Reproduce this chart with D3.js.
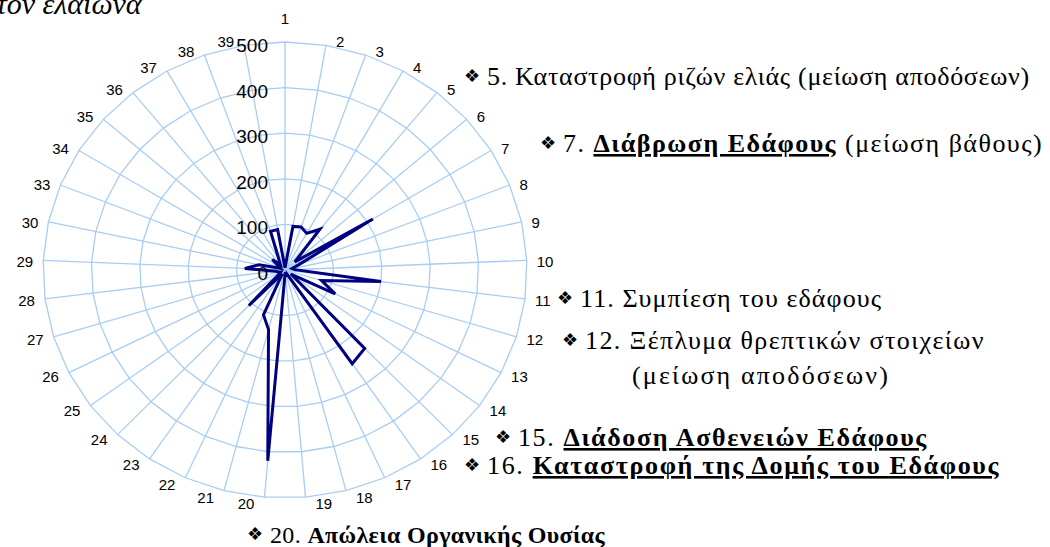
<!DOCTYPE html>
<html>
<head>
<meta charset="utf-8">
<script src="https://cdn.jsdelivr.net/npm/d3@7"></script>
<style>
  html, body { margin: 0; padding: 0; background: #fff; }
  svg { display: block; }
</style>
</head>
<body>
<svg id="chart" width="1050" height="547"></svg>
<script>
// categories (31 and 32 are absent in the source chart)
const categories = ['1','2','3','4','5','6','7','8','9','10','11','12','13','14','15','16','17','18','19','20',
  '21','22','23','24','25','26','27','28','29','30','33','34','35','36','37','38','39'];
const values = [5, 97, 100, 92, 115, 27, 213, 30, 15, 20, 200, 79, 116, 15, 238, 248, 10, 15, 5, 420,
  135, 108, 10, 108, 15, 10, 15, 20, 83, 55, 10, 15, 35, 15, 25, 90, 90];
const ringTicks = [0, 100, 200, 300, 400, 500];

// side notes: text parts [text, bold, underline]
const noteTexts = [
  [['5. Καταστροφή ριζών ελιάς (μείωση αποδόσεων)', false, false]],
  [['7. ', false, false], ['Διάβρωση Εδάφους', true, true], [' (μείωση βάθους)', false, false]],
  [['11. Συμπίεση του εδάφους', false, false]],
  [['12. Ξέπλυμα θρεπτικών στοιχείων', false, false]],
  [['(μείωση αποδόσεων)', false, false]],
  [['15. ', false, false], ['Διάδοση Ασθενειών Εδάφους', true, true]],
  [['16. ', false, false], ['Καταστροφή της Δομής του Εδάφους', true, true]],
  [['20. ', false, false], ['Απώλεια Οργανικής Ουσίας', true, false]]
];
// where each note sits: text start x, baseline y, width, font size, bullet
const noteLayout = [
  { x: 487, y: 85, w: 543, size: 26, bullet: true },
  { x: 563, y: 152, w: 480, size: 26, bullet: true },
  { x: 580, y: 307, w: 302, size: 26, bullet: true },
  { x: 585, y: 349, w: 400, size: 26, bullet: true },
  { x: 632, y: 384, w: 258, size: 26, bullet: false },
  { x: 518, y: 446, w: 410, size: 26, bullet: true },
  { x: 487, y: 474, w: 513, size: 26, bullet: true },
  { x: 270, y: 543, w: 335, size: 24, bullet: true }
];

const SANS = 'Liberation Sans, Arial, sans-serif';
const SERIF = 'Liberation Serif, DejaVu Serif, Noto Serif, Tinos, FreeSerif, Nimbus Roman, Times New Roman, serif';

const cx = 285, cy = 270;
const svg = d3.select('#chart');

const n = categories.length;
const angle = d3.scaleLinear().domain([0, n]).range([0, 2 * Math.PI]);
const rx = d3.scaleLinear().domain([0, 500]).range([0, 242]);
const ry = d3.scaleLinear().domain([0, 500]).range([0, 228]);

function px(i, v) { return cx + rx(v) * Math.sin(angle(i)); }
function py(i, v) { return cy - ry(v) * Math.cos(angle(i)); }

const grid = svg.append('g');
const gridColor = '#a9cdf2';

// rings
ringTicks.filter(t => t > 0).forEach(t => {
  grid.append('path')
    .attr('d', d3.line().curve(d3.curveLinearClosed)(d3.range(n).map(i => [px(i, t), py(i, t)])))
    .attr('fill', 'none')
    .attr('stroke', gridColor)
    .attr('stroke-width', 1.3);
});

// spokes
grid.selectAll('line.spoke')
  .data(d3.range(n))
  .enter().append('line')
  .attr('class', 'spoke')
  .attr('x1', cx).attr('y1', cy)
  .attr('x2', i => px(i, 500))
  .attr('y2', i => py(i, 500))
  .attr('stroke', gridColor)
  .attr('stroke-width', 1.3);

// data series
svg.append('path')
  .datum(values)
  .attr('d', d3.line().curve(d3.curveLinearClosed).x((v, i) => px(i, v)).y((v, i) => py(i, v)))
  .attr('fill', 'none')
  .attr('stroke', '#000080')
  .attr('stroke-width', 3)
  .attr('stroke-linejoin', 'miter');

// ring value labels
svg.selectAll('text.ring')
  .data(ringTicks)
  .enter().append('text')
  .attr('class', 'ring')
  .attr('font-family', SANS)
  .attr('x', cx - 17)
  .attr('y', t => cy - ry(t) + 10)
  .attr('text-anchor', 'end')
  .attr('font-size', 19)
  .text(t => t);

// category labels around the outside
svg.selectAll('text.cat')
  .data(categories)
  .enter().append('text')
  .attr('class', 'cat')
  .attr('font-family', SANS)
  .attr('font-size', 15)
  .each(function(c, i) {
    const s = Math.sin(angle(i)), co = Math.cos(angle(i));
    const t = d3.select(this).text(c);
    const w = this.getComputedTextLength();
    let x = px(i, 500), y = py(i, 500);
    if (Math.abs(s) < 0.01) {
      y -= 23;
    } else {
      x += Math.sign(s) * (10 + w / 2);
      y += -co * 5.5 + 1.5;
    }
    t.attr('x', x).attr('y', y).attr('text-anchor', 'middle').attr('dy', '0.35em');
  });

// title fragment (cut at top edge)
svg.append('text')
  .attr('font-family', SERIF)
  .attr('x', -4).attr('y', 14)
  .attr('font-size', 30)
  .attr('font-style', 'italic')
  .text('τον ελαιώνα');

// side notes, letter spacing adjusted so each line keeps the source width
noteTexts.forEach((parts, k) => {
  const lay = noteLayout[k];
  if (lay.bullet) {
    svg.append('text')
      .attr('font-family', 'DejaVu Sans, sans-serif')
      .attr('fill', '#000')
      .attr('x', lay.x - 23).attr('y', lay.y - 3)
      .attr('font-size', 18)
      .text('❖');
  }
  const t = svg.append('text')
    .attr('font-family', SERIF)
    .attr('fill', '#000')
    .attr('x', lay.x)
    .attr('y', lay.y)
    .attr('font-size', lay.size);
  parts.forEach(p => {
    t.append('tspan')
      .attr('font-weight', p[1] ? 'bold' : 'normal')
      .attr('text-decoration', p[2] ? 'underline' : null)
      .text(p[0]);
  });
  const chars = parts.map(p => p[0]).join('').length;
  const w = t.node().getComputedTextLength();
  t.attr('letter-spacing', ((lay.w - w) / chars).toFixed(2));
});
</script>
</body>
</html>
